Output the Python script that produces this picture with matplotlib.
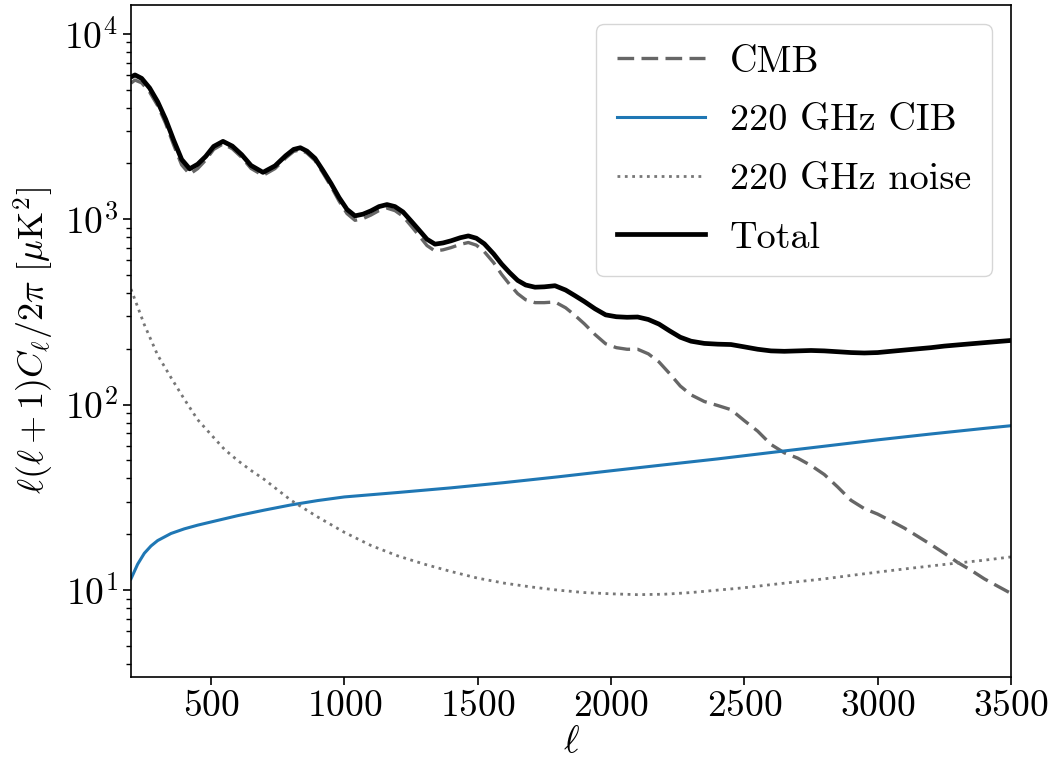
import matplotlib
matplotlib.use("Agg")
import matplotlib.pyplot as plt

plt.rcParams["font.family"] = "serif"
plt.rcParams["font.serif"] = ["cmr10"]
plt.rcParams["mathtext.fontset"] = "cm"
plt.rcParams["axes.formatter.use_mathtext"] = True
plt.rcParams["axes.unicode_minus"] = False

# Multipoles for the CMB and total spectra
ell_tt = [200, 215, 240, 270, 300, 330, 360, 390, 420, 450, 480, 510, 545, 580,
          615, 650, 695, 740, 780, 810, 835, 860, 890, 920, 950, 980, 1010, 1040,
          1070, 1100, 1130, 1160, 1190, 1220, 1250, 1280, 1310, 1340, 1370, 1400,
          1435, 1465, 1495, 1525, 1560, 1590, 1620, 1650, 1680, 1715, 1750, 1790,
          1830, 1865, 1900, 1940, 1980, 2020, 2060, 2100, 2140, 2180, 2220, 2260,
          2300, 2350, 2400, 2450, 2500, 2550, 2600, 2650, 2700, 2750, 2800, 2850,
          2900, 2950, 3000, 3050, 3100, 3150, 3200, 3250, 3300, 3350, 3400, 3450,
          3500]

total = [5850, 6000, 5750, 5100, 4300, 3460, 2670, 2100, 1870, 1980, 2180, 2470,
         2630, 2480, 2230, 1950, 1790, 1940, 2200, 2380, 2430, 2330, 2130, 1830,
         1560, 1310, 1130, 1043, 1065, 1110, 1170, 1200, 1170, 1095, 980, 875, 780,
         734, 745, 765, 795, 813, 790, 737, 650, 573, 515, 468, 442, 430, 432, 438,
         415, 387, 360, 329, 305, 298, 296, 297, 288, 272, 250, 231, 220, 214, 212,
         211, 205, 199, 195, 194, 195, 196, 195, 193, 191, 190, 191, 194, 197, 200,
         203, 207, 210, 213, 216, 219, 222]

cmb = [5420, 5630, 5440, 4850, 4100, 3285, 2515, 1965, 1750, 1875, 2085, 2380,
       2548, 2400, 2157, 1880, 1723, 1876, 2140, 2321, 2372, 2273, 2074, 1775,
       1505, 1255, 1073, 987, 1008, 1054, 1114, 1148, 1113, 1038, 922, 817, 721,
       674, 684, 703, 732, 749, 725, 668, 583, 504, 445, 397, 368, 355, 355, 358,
       333, 303, 273, 239, 213, 203, 199, 199, 188, 170, 147, 126, 113, 104, 99,
       94, 82, 72, 61, 55, 51.5, 47, 42, 36, 30.5, 27.5, 25.7, 23.6, 21.6, 19.5,
       17.6, 15.8, 14.1, 12.8, 11.5, 10.5, 9.6]

# 220 GHz CIB power
ell_cib = [200, 225, 250, 275, 300, 350, 400, 450, 500, 600, 700, 800, 900, 1000,
           1200, 1400, 1600, 1800, 2000, 2200, 2400, 2600, 2800, 3000, 3200, 3400,
           3500]
cib = [11.5, 13.8, 15.8, 17.3, 18.5, 20.2, 21.4, 22.4, 23.3, 25.2, 27.0, 28.8,
       30.4, 31.8, 33.6, 35.6, 38.0, 40.8, 44.0, 47.4, 51.0, 55.2, 59.7, 64.6,
       69.5, 74.5, 77.0]

# 220 GHz instrumental noise
ell_noise = [200, 250, 300, 350, 400, 450, 500, 550, 600, 650, 700, 800, 900,
             1000, 1100, 1200, 1300, 1400, 1500, 1600, 1700, 1800, 1900, 2000,
             2100, 2200, 2300, 2400, 2500, 2600, 2700, 2800, 2900, 3000, 3100,
             3200, 3300, 3400, 3500]
noise = [420, 270, 185, 140, 107, 83, 69, 57.5, 50, 44.2, 39.5, 30.5, 24.8, 20.5,
         17.4, 15.3, 13.8, 12.6, 11.6, 10.9, 10.4, 10.0, 9.7, 9.55, 9.45, 9.5,
         9.7, 10.0, 10.3, 10.7, 11.1, 11.5, 12.0, 12.5, 13.0, 13.5, 14.0, 14.5,
         15.1]

fig = plt.figure(figsize=(10.53, 7.70), dpi=100)
ax = fig.add_axes([0.1244, 0.1208, 0.8357, 0.8727])

ax.plot(ell_tt, cmb, color="#666666", lw=2.4, ls=(0, (5.0, 2.2)), label="CMB")
ax.plot(ell_cib, cib, color="#1f77b4", lw=2.2, label="220 GHz CIB")
ax.plot(ell_noise, noise, color="#777777", lw=2.0, ls=":", label="220 GHz noise")
ax.plot(ell_tt, total, color="black", lw=3.4, label="Total")

ax.set_yscale("log")
ax.set_xlim(200, 3500)
ax.set_ylim(3.4, 1.43e4)
ax.set_xticks([500, 1000, 1500, 2000, 2500, 3000, 3500])

ax.tick_params(axis="both", which="major", labelsize=27, length=6, width=1.2)
ax.tick_params(axis="both", which="minor", length=3.5, width=1.0)
for s in ax.spines.values():
    s.set_linewidth(1.2)

ax.set_xlabel(r"$\ell$", fontsize=27, labelpad=2)
ax.set_ylabel(r"$\ell(\ell+1)C_\ell/2\pi\ [\mu\mathrm{K}^2]$", fontsize=26,
              labelpad=6)

ax.legend(loc="upper right", fontsize=27.5, handlelength=2.3, labelspacing=0.65,
          handletextpad=0.65, borderpad=0.55, framealpha=0.8)

fig.savefig("out.png", dpi=100)
